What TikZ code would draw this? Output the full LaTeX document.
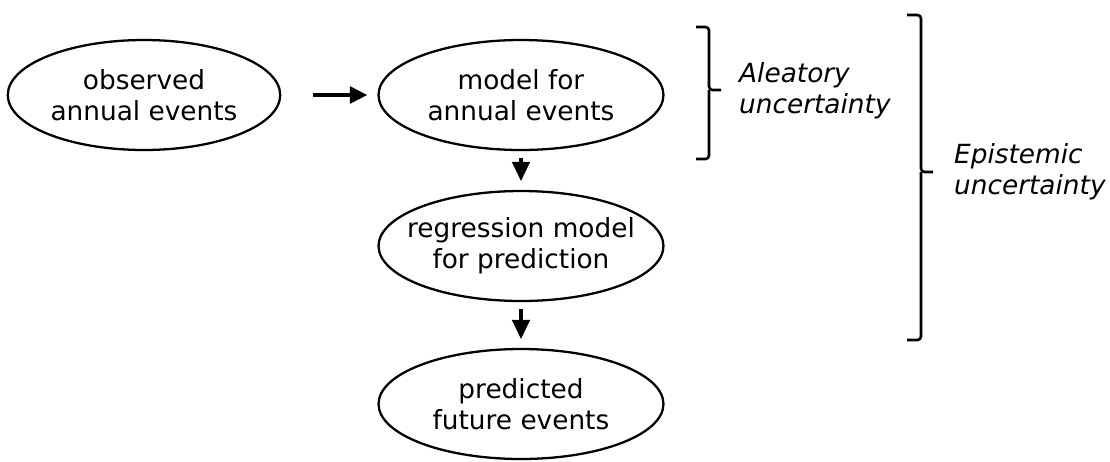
\documentclass[tikz,border=0pt]{standalone}
\usepackage{fontspec}
\setmainfont{DejaVu Sans}
\usetikzlibrary{shapes.geometric}
\usetikzlibrary{arrows.meta}

\tikzset{
  stage/.style={draw, ellipse, line width=1.3pt, minimum width=5.7cm,
    minimum height=2.2cm, inner ysep=0pt, inner xsep=-0.4cm, align=center,
    font=\fontsize{15}{17.5}\selectfont},
  flow/.style={line width=2.2pt, -{Triangle[length=10pt,width=9.5pt]}},
  drop/.style={line width=1.8pt, -{Triangle[length=11pt,width=10pt]}},
  brace/.style={line width=1.5pt, rounded corners=2pt},
  note/.style={anchor=west, align=left, font=\fontsize{15}{17.5}\selectfont\itshape}
}

\begin{document}
\begin{tikzpicture}[x=0.02cm,y=-0.02cm]
                    \useasboundingbox (0,0) rectangle (1110,461);

                    \node[stage,minimum width=5.45cm] (obs) at(144,95) {observed\\annual events};
                    \node[stage] (mod) at(521,95) {model for\\annual events};
                    \node[stage] (reg) at(521,246) {regression model\\for prediction};
                    \node[stage] (pred) at(521,404) {predicted\\future events};

                    \draw[flow] ([xshift=0.64cm]obs.east) -- ([xshift=-0.2cm]mod.west);
                    \draw[drop] ([yshift=-4pt]mod.south) -- ([yshift=5pt]reg.north);
                    \draw[drop] ([yshift=-4pt]reg.south) -- ([yshift=5pt]pred.north);

                    % aleatory
                    \draw[brace] (696,27) -- (709,27) -- (709,90) -- (721,90);
                    \draw[brace] (709,90) -- (709,159) -- (696,159);
                    \node[note] (alea) at(733,91) {Aleatory\\uncertainty};

                    % epistemic
                    \draw[brace] (907,15) -- (921,15) -- (921,172) -- (933,172);
                    \draw[brace] (921,172) -- (921,340) -- (907,340);
                    \node[note] (epis) at(948,172) {Epistemic\\uncertainty};
                \end{tikzpicture}
\end{document}
